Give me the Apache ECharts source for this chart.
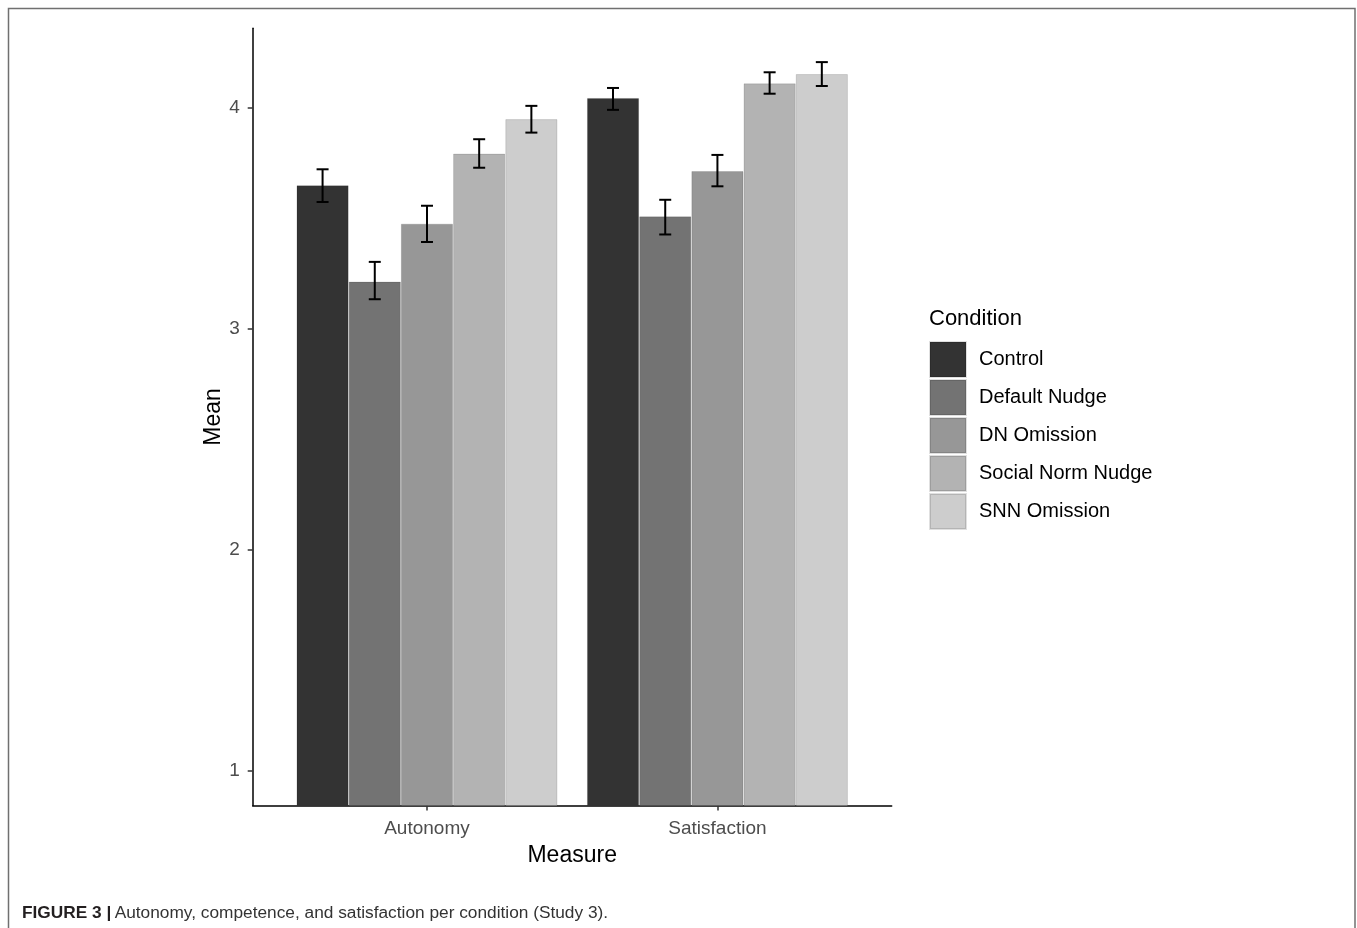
<!DOCTYPE html>
<html>
<head>
<meta charset="utf-8">
<title>Figure 3</title>
<script src="https://cdn.jsdelivr.net/npm/echarts@6/dist/echarts.min.js"></script>
<style>
  html, body { margin: 0; padding: 0; background: #fff; }
  #chart { width: 1357px; height: 928px; }
</style>
</head>
<body>
<div id="chart"></div>
<script>
// data
const measures = ['Autonomy', 'Satisfaction'];
const conditions = ['Control', 'Default Nudge', 'DN Omission', 'Social Norm Nudge', 'SNN Omission'];
const colors = ['#333333', '#737373', '#979797', '#b3b3b3', '#cdcdcd'];

// means per condition: [Autonomy, Satisfaction]
const controlMean = [3.649, 4.044];
const defaultMean = [3.213, 3.508];
const dnMean = [3.475, 3.713];
const snMean = [3.792, 4.110];
const snnMean = [3.948, 4.152];

// error bar ends per condition: [Autonomy, Satisfaction]
const controlLow = [3.573, 3.990];
const controlHigh = [3.721, 4.089];
const defaultLow = [3.133, 3.426];
const defaultHigh = [3.302, 3.583];
const dnLow = [3.392, 3.644];
const dnHigh = [3.556, 3.786];
const snLow = [3.728, 4.063];
const snHigh = [3.857, 4.160];
const snnLow = [3.887, 4.098];
const snnHigh = [4.008, 4.206];

const yTicks = [1, 2, 3, 4];

const means = [controlMean, defaultMean, dnMean, snMean, snnMean];
const lows = [controlLow, defaultLow, dnLow, snLow, snnLow];
const highs = [controlHigh, defaultHigh, dnHigh, snHigh, snnHigh];

const barWidth = 52.2;

const barSeries = conditions.map((name, i) => ({
  name: name,
  type: 'bar',
  barWidth: barWidth,
  barGap: '0%',
  data: means[i].map((v, j) => [j + 1, v]),
  itemStyle: { color: colors[i], borderColor: 'rgba(0,0,0,0.12)', borderWidth: 1 },
  emphasis: { disabled: true }
}));

// one row per error bar: x position, low, high, condition index
const errorData = [];
conditions.forEach((name, i) => {
  measures.forEach((m, j) => {
    errorData.push([j + 1, lows[i][j], highs[i][j], i]);
  });
});

const errorSeries = {
  type: 'custom',
  name: 'error',
  data: errorData,
  z: 10,
  renderItem: (params, api) => {
    const offset = (api.value(3) - 2) * barWidth;
    const lo = api.coord([api.value(0), api.value(1)]);
    const hi = api.coord([api.value(0), api.value(2)]);
    const x = lo[0] + offset;
    const cap = 6;
    const style = { stroke: '#000', lineWidth: 2 };
    return {
      type: 'group',
      children: [
        { type: 'line', shape: { x1: x, y1: lo[1], x2: x, y2: hi[1] }, style: style },
        { type: 'line', shape: { x1: x - cap, y1: lo[1], x2: x + cap, y2: lo[1] }, style: style },
        { type: 'line', shape: { x1: x - cap, y1: hi[1], x2: x + cap, y2: hi[1] }, style: style }
      ]
    };
  }
};

const chart = echarts.init(document.getElementById('chart'));
const option = {
  animation: false,
  textStyle: { fontFamily: 'Liberation Sans, Arial, sans-serif' },
  grid: { left: 252.7, right: 465.3, top: 28.3, bottom: 122.5, containLabel: false },
  xAxis: {
    type: 'value',
    min: 0.4,
    max: 2.6,
    name: 'Measure',
    nameLocation: 'middle',
    nameGap: 39,
    nameTextStyle: { fontSize: 23, color: '#000' },
    axisLine: { show: true, onZero: false, lineStyle: { color: '#000', width: 1.5 } },
    axisTick: { show: true, customValues: [1, 2], length: 5, lineStyle: { color: '#333', width: 1.5 } },
    axisLabel: {
      customValues: [1, 2],
      margin: 14,
      fontSize: 19,
      color: '#4d4d4d',
      formatter: v => measures[Math.round(v) - 1] || ''
    },
    splitLine: { show: false }
  },
  yAxis: {
    type: 'value',
    min: 0.842,
    max: 4.359,
    name: 'Mean',
    nameLocation: 'middle',
    nameGap: 28,
    nameTextStyle: { fontSize: 23, color: '#000' },
    axisLine: { show: true, onZero: false, lineStyle: { color: '#000', width: 1.5 } },
    axisTick: { show: true, customValues: yTicks, length: 5, lineStyle: { color: '#333', width: 1.5 } },
    axisLabel: { customValues: yTicks, margin: 13, fontSize: 19, color: '#4d4d4d' },
    splitLine: { show: false }
  },
  legend: {
    data: conditions,
    orient: 'vertical',
    left: 929,
    top: 341,
    padding: 0,
    itemWidth: 36,
    itemHeight: 35,
    itemGap: 1,
    icon: 'rect',
    selectedMode: false,
    textStyle: { fontSize: 20, color: '#000', padding: [0, 0, 0, 8] }
  },
  graphic: [
    {
      type: 'rect',
      silent: true,
      shape: { x: 8.5, y: 8.5, width: 1346.5, height: 960 },
      style: { fill: 'none', stroke: '#707070', lineWidth: 1.5 }
    },
    {
      type: 'text',
      left: 929,
      top: 308,
      style: { text: 'Condition', fontSize: 22, fill: '#000', fontFamily: 'Liberation Sans, Arial, sans-serif' }
    },
    {
      type: 'text',
      left: 22,
      top: 905,
      style: {
        text: '{b|FIGURE 3 |} {r|Autonomy, competence, and satisfaction per condition (Study 3).}',
        fontFamily: 'Liberation Sans, Arial, sans-serif',
        rich: {
          b: { fontSize: 17.3, fontWeight: 'bold', fill: '#231f20' },
          r: { fontSize: 17.3, fill: '#333' }
        }
      }
    }
  ],
  series: barSeries.concat([errorSeries])
};
chart.setOption(option);
</script>
</body>
</html>
